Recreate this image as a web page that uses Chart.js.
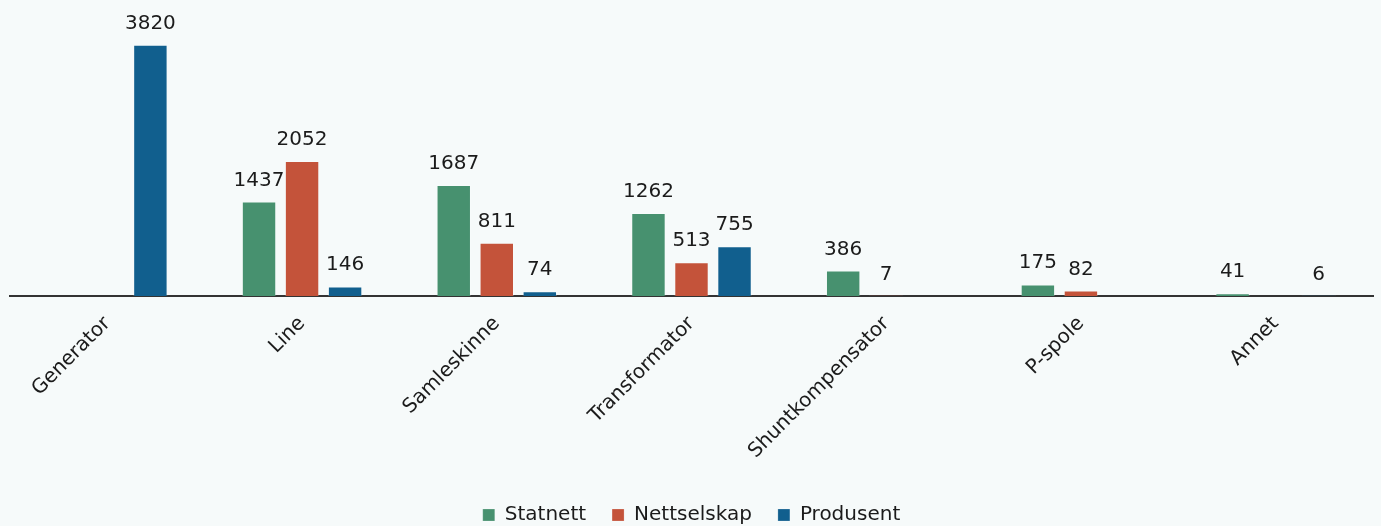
<!DOCTYPE html>
<html lang="no">
<head>
    <meta charset="UTF-8" />
    <title>Feil per komponent</title>
    <script src="https://cdn.jsdelivr.net/npm/chart.js"></script>
    <style>
        html, body {
            margin: 0;
            padding: 0;
            background: #f6fafa;
        }
        #wrap {
            width: 1381px;
            height: 526px;
        }
    </style>
</head>
<body>
    <div id="wrap"><canvas id="chart"></canvas></div>

    <script>
        // Antall feil per komponenttype og eier
        const categories = ['Generator', 'Line', 'Samleskinne', 'Transformator', 'Shuntkompensator', 'P-spole', 'Annet'];
        const statnett    = [null, 1437, 1687, 1262, 386, 175, 41];
        const nettselskap = [null, 2052, 811, 513, 7, 82, null];
        const produsent   = [3820, 146, 74, 755, null, null, 6];

        const FONT = "'DejaVu Sans', sans-serif";
        const TEXT = '#1b1b1b';

        // Draws the value above each bar
        const valueLabels = {
            id: 'valueLabels',
            afterDatasetsDraw(chart) {
                const ctx = chart.ctx;
                ctx.save();
                ctx.font = '20px ' + FONT;
                ctx.fillStyle = TEXT;
                ctx.textAlign = 'center';
                ctx.textBaseline = 'alphabetic';
                chart.data.datasets.forEach((ds, i) => {
                    const meta = chart.getDatasetMeta(i);
                    meta.data.forEach((bar, j) => {
                        const v = ds.data[j];
                        if (v === null || v === undefined) return;
                        ctx.fillText(String(v), bar.x, bar.y - 16);
                    });
                });
                ctx.restore();
            }
        };

        const ctx = document.getElementById('chart').getContext('2d');
        const chart = new Chart(ctx, {
            type: 'bar',
            data: {
                labels: categories,
                datasets: [
                    { label: 'Statnett', data: statnett, backgroundColor: '#47916f' },
                    { label: 'Nettselskap', data: nettselskap, backgroundColor: '#c4533a' },
                    { label: 'Produsent', data: produsent, backgroundColor: '#115f8e' }
                ]
            },
            options: {
                responsive: true,
                maintainAspectRatio: false,
                animation: false,
                layout: {
                    padding: { top: 33, left: 10, right: 8, bottom: -9 }
                },
                datasets: {
                    bar: {
                        categoryPercentage: 0.663,
                        barPercentage: 0.8,
                        borderWidth: 1,
                        borderColor: 'rgba(255,255,255,0.2)',
                        borderSkipped: 'bottom'
                    }
                },
                scales: {
                    x: {
                        grid: { display: false },
                        border: { display: true, color: '#333333', width: 2 },
                        ticks: {
                            color: TEXT,
                            font: { family: FONT, size: 20 },
                            minRotation: 45,
                            maxRotation: 45,
                            padding: 8
                        },
                        afterFit(scale) {
                            scale.height = 183;
                        }
                    },
                    y: {
                        display: false,
                        min: 0,
                        max: 4000
                    }
                },
                plugins: {
                    legend: {
                        position: 'bottom',
                        labels: {
                            color: TEXT,
                            font: { family: FONT, size: 20 },
                            boxWidth: 12,
                            boxHeight: 12,
                            padding: 26
                        }
                    },
                    tooltip: { enabled: false }
                }
            },
            plugins: [valueLabels]
        });
    </script>
</body>
</html>
